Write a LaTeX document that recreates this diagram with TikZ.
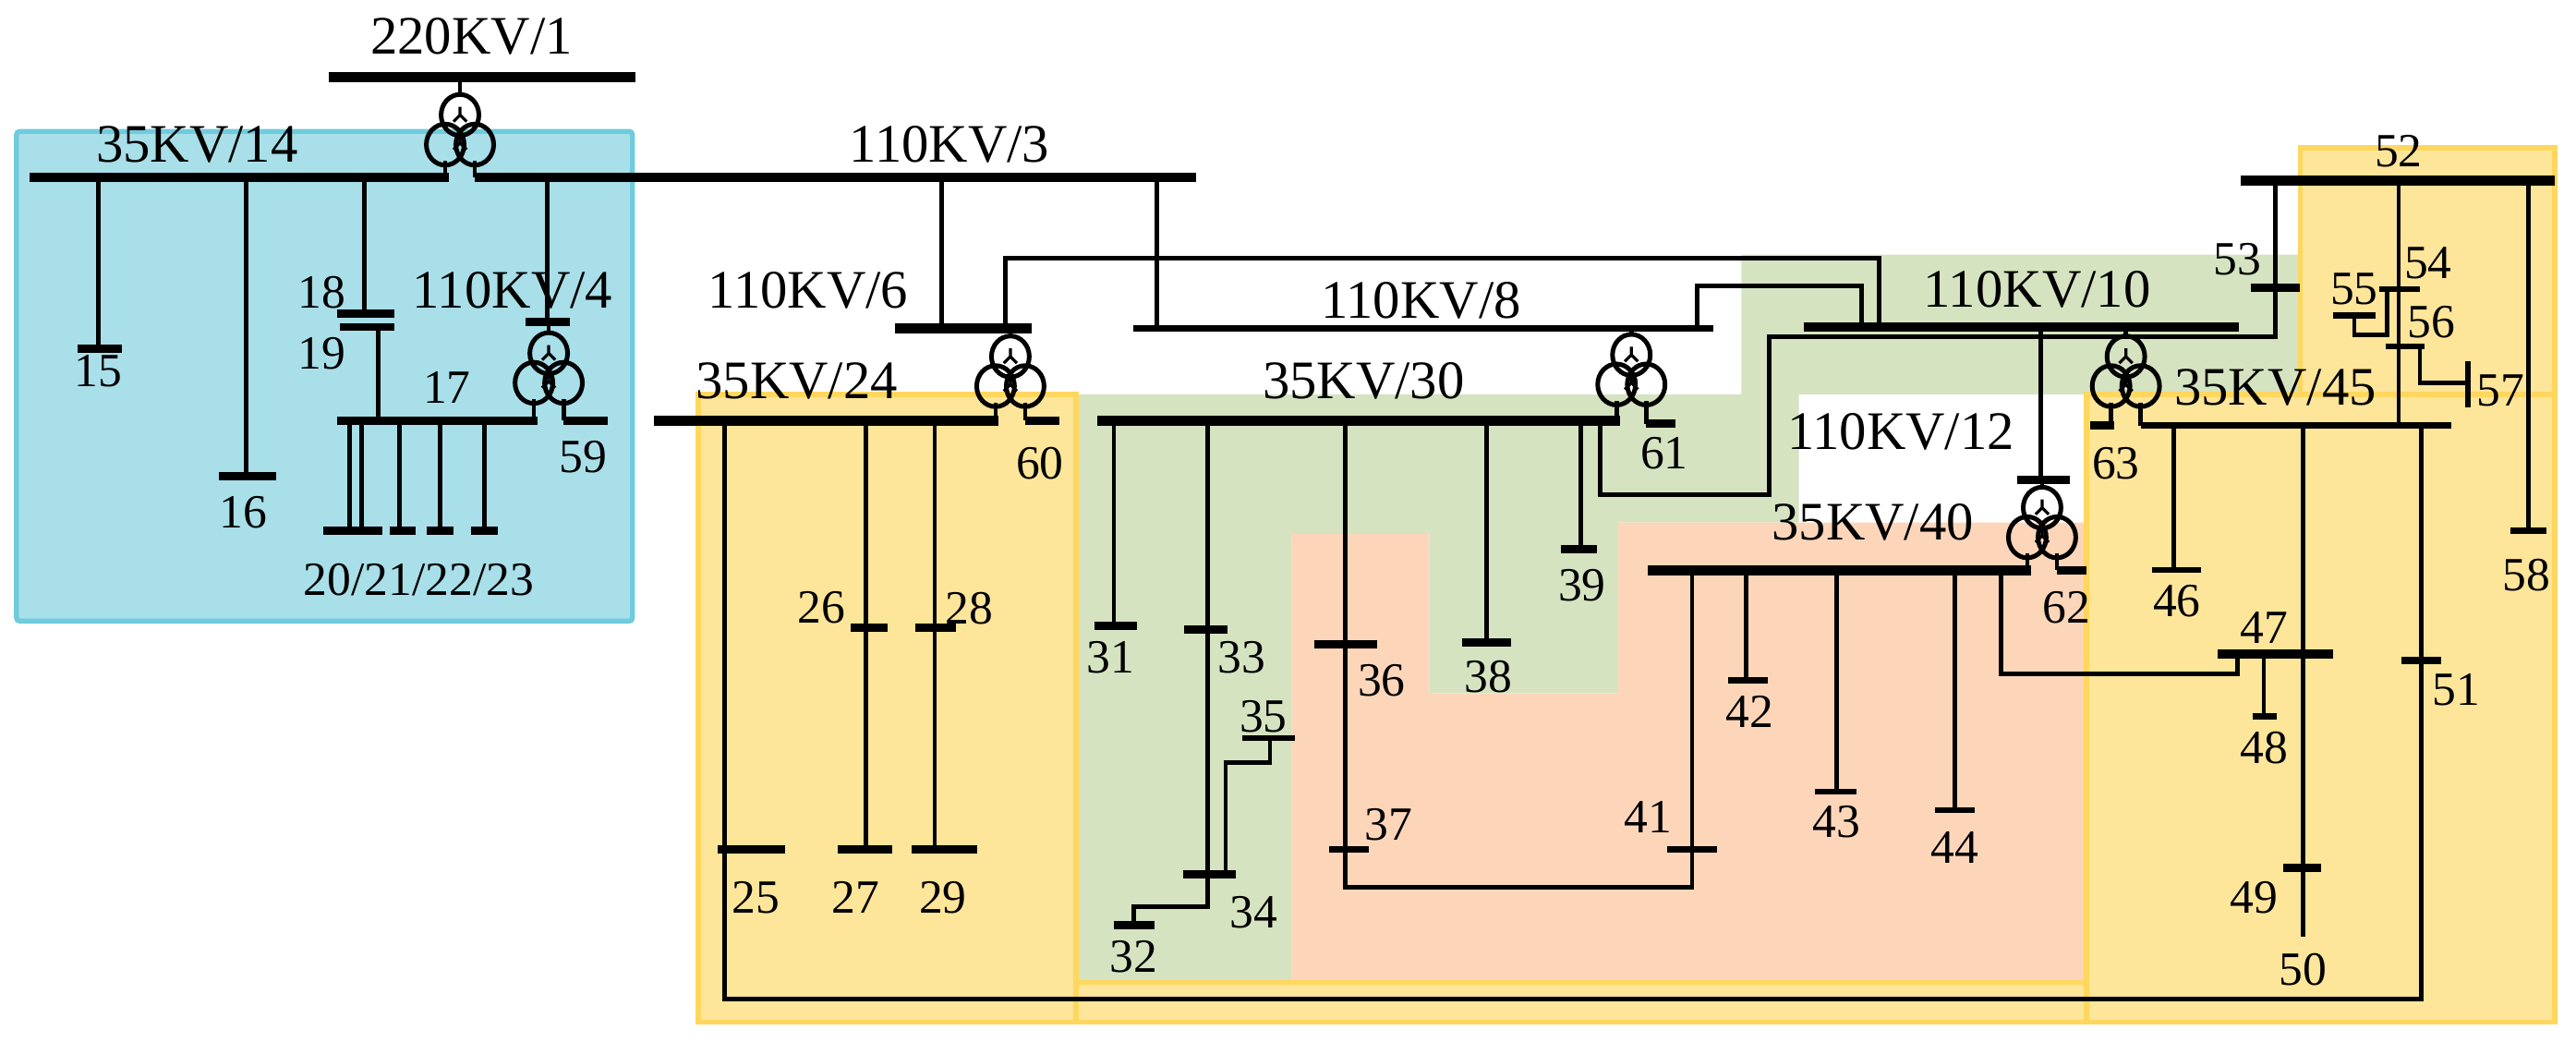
\documentclass[tikz,border=0pt]{standalone}
\usepackage{fontspec}
\setmainfont{Liberation Serif}
\begin{document}
\begin{tikzpicture}[x=1pt,y=-1pt,
  ln/.style={line width=2.7pt},
  bus/.style={line width=6pt},
  bar/.style={line width=5pt},
  lb/.style={font=\fontsize{33}{36}\selectfont,inner sep=0pt},
  nb/.style={font=\fontsize{29}{32}\selectfont,inner sep=0pt},
  reg/.style={line width=3pt}]
\definecolor{bluef}{HTML}{A8DFE9}\definecolor{blueb}{HTML}{6FCBDD}
\definecolor{yelf}{HTML}{FDE59A}\definecolor{yelb}{HTML}{FFD75E}
\definecolor{grnf}{HTML}{D5E3C1}\definecolor{pchf}{HTML}{FDD6BA}
\useasboundingbox (0,0) rectangle (1568,634);
% regions
\draw[reg,fill=bluef,draw=blueb,rounded corners=2pt] (10,80) rectangle (385,378);
\fill[grnf] (655,240)--(1060,240)--(1060,155)--(1400,155)--(1400,240)--(1095,240)--(1095,318)--(985,318)--(985,422)--(870,422)--(870,325)--(786,325)--(786,598)--(655,598)--cycle;
\fill[pchf] (786,325)--(870,325)--(870,422)--(985,422)--(985,318)--(1270,318)--(1270,598)--(786,598)--cycle;
\draw[reg,fill=yelf,draw=yelb] (425,240) rectangle (655,622);
\draw[reg,fill=yelf,draw=yelb] (655,598) rectangle (1270,622);
\draw[reg,fill=yelf,draw=yelb] (1270,240) rectangle (1555,622);
\draw[reg,fill=yelf,draw=yelb] (1400,90) rectangle (1555,240);
% transformer pic
\tikzset{trafo/.pic={\draw[line width=2.8pt] (0,0) circle[x radius=11.5,y radius=12.5] (-9,18) circle[x radius=11.5,y radius=12.5] (9,18) circle[x radius=11.5,y radius=12.5];
 \draw[line width=1.8pt] (0,12)--(0,17)--(-4,21) (0,17)--(4,21) (0,-5)--(0,0)--(-4,4) (0,0)--(4,4);}}
% ===== top
\draw[bus] (200,47)--(387,47);
\node[lb] (l1) at (287,22) {220KV/1};
\pic at (280,70) {trafo};
\draw[ln] (280,47)--(280,57.5);
\draw[bus] (18,108)--(273,108);
\draw[ln] (271,98)--(271,108);
\draw[ln] (289,98)--(289,108);
\draw[bus] (289,108)--(728,108);
\node[lb] at (120,88) {35KV/14};
\node[lb] at (578,88) {110KV/3};
% 35KV/14 branches
\draw[ln] (60,108)--(60,212); \draw[bar] (47,212)--(74,212); \node[nb] at (60,218) [below=-2pt] {15};
\draw[ln] (150,108)--(150,290); \draw[bar] (133,290)--(168,290); \node[nb] at (148,312) {16};
\draw[ln] (222,108)--(222,191); \draw[bar] (205,191)--(240,191); \draw[bar] (207,199)--(240,199);
\node[nb] at (196,178) {18}; \node[nb] at (196,215) {19};
\draw[ln] (230,199)--(230,256);
\draw[ln] (333,108)--(333,196); \draw[bar] (320,196)--(347,196);
\node[lb] at (312,177) {110KV/4};
\pic at (334,215) {trafo};
\draw[ln] (334,196)--(334,202.5);
\draw[bar] (205,256)--(327,256); \draw[ln] (325,243)--(325,256);
\draw[ln] (343,243)--(343,256); \draw[bar] (343,256)--(370,256);
\node[nb] at (272,236) {17}; \node[nb] at (355,278) {59};
\foreach \x in {213,220,243,268,295} \draw[ln] (\x,256)--(\x,323);
\draw[bar] (197,323)--(233,323); \draw[bar] (237,323)--(253,323);
\draw[bar] (260,323)--(276,323); \draw[bar] (287,323)--(303,323);
\node[nb] at (255,353) {20/21/22/23};
% 110KV/6
\draw[ln] (573,108)--(573,200); \draw[bus] (545,200)--(628,200);
\node[lb] at (492,177) {110KV/6};
\pic at (615,217) {trafo};
\draw[ln] (615,200)--(615,204.5);
\draw[ln] (606,245)--(606,256); \draw[ln] (624,245)--(624,256);
\draw[bus] (398,256)--(608,256); \draw[bar] (624,256)--(645,256);
\node[lb] at (485,232) {35KV/24}; \node[nb] at (633,282) {60};
\draw[ln] (441,256)--(441,608)--(1474,608)--(1474,259);
\draw[bar] (437,517)--(478,517); \node[nb] at (460,546) {25};
\draw[ln] (527,256)--(527,517); \draw[bar] (518,382)--(540,382); \draw[bar] (510,517)--(543,517);
\node[nb] at (500,370) {26}; \node[nb] at (521,546) {27};
\draw[ln] (569,256)--(569,517); \draw[bar] (557,382)--(582,382); \draw[bar] (555,517)--(595,517);
\node[nb] at (590,370) {28}; \node[nb] at (574,546) {29};
% 110KV/8 and 10
\draw[ln] (704,108)--(704,200);
\draw[line width=4pt] (690,200)--(1043,200);
\node[lb] at (865,183) {110KV/8};
\draw[ln] (612,200)--(612,157)--(1144,157)--(1144,198);
\draw[ln] (1033,200)--(1033,174)--(1133,174)--(1133,198);
\draw[bus] (1098,199)--(1363,199);
\node[lb] at (1240,176) {110KV/10};
\pic at (993,216) {trafo};
\draw[ln] (993,200)--(993,203.5);
\draw[ln] (984,244)--(984,257); \draw[ln] (1002,244)--(1002,258); \draw[bar] (1002,258)--(1020,258);
\node[nb] at (1013,276) {61};
\draw[bus] (668,256)--(986,256);
\node[lb] at (830,232) {35KV/30};
\draw[ln] (974,256)--(974,301)--(1077,301)--(1077,205)--(1385,205)--(1385,110);
\draw[bar] (1370,175)--(1400,175); \node[nb] at (1362,158) {53};
% 35KV/30 drops
\draw[ln] (678,256)--(678,381); \draw[bar] (666,381)--(692,381); \node[nb] at (676,400) {31};
\draw[ln] (735,256)--(735,552)--(690,552)--(690,563); \draw[bar] (721,383)--(747,383); \draw[bar] (720,532)--(752,532); \draw[bar] (678,563)--(703,563);
\node[nb] at (756,400) {33}; \node[nb] at (763,555) {34}; \node[nb] at (690,582) {32};
\draw[ln] (773,449)--(773,464)--(746,464)--(746,532); \draw[line width=3.5pt] (756,449)--(788,449); \node[nb] at (769,436) {35};
\draw[ln] (819,256)--(819,540)--(1030,540)--(1030,347);
\draw[bar] (800,392)--(838,392); \draw[line width=3.5pt] (809,517)--(833,517);
\node[nb] at (841,414) {36}; \node[nb] at (845,502) {37};
\draw[line width=3.5pt] (1015,517)--(1045,517); \node[nb] at (1003,497) {41};
\draw[ln] (905,256)--(905,391); \draw[bar] (890,391)--(920,391); \node[nb] at (906,412) {38};
\draw[ln] (962,256)--(962,334); \draw[bar] (950,334)--(972,334); \node[nb] at (963,356) {39};
% 110KV/12, 35KV/40
\draw[ln] (1242,199)--(1242,292); \draw[bar] (1228,292)--(1260,292);
\node[lb] at (1157,263) {110KV/12};
\pic at (1243,309) {trafo};
\draw[ln] (1243,292)--(1243,296.5);
\draw[ln] (1234,337)--(1234,347); \draw[ln] (1252,337)--(1252,347); \draw[bar] (1252,347)--(1270,347);
\draw[bus] (1003,347)--(1236,347);
\node[lb] at (1140,318) {35KV/40}; \node[nb] at (1258,370) {62};
\draw[ln] (1063,347)--(1063,414); \draw[line width=3.5pt] (1052,414)--(1076,414); \node[nb] at (1065,433) {42};
\draw[ln] (1118,347)--(1118,482); \draw[line width=3.5pt] (1105,482)--(1130,482); \node[nb] at (1118,500) {43};
\draw[ln] (1190,347)--(1190,493); \draw[line width=3.5pt] (1178,493)--(1202,493); \node[nb] at (1190,516) {44};
\draw[ln] (1218,347)--(1218,410)--(1362,410)--(1362,398);
% 35KV/45
\pic at (1294,217) {trafo};
\draw[ln] (1294,199)--(1294,204.5);
\draw[ln] (1285,245)--(1285,259); \draw[bar] (1272,259)--(1287,259);
\draw[ln] (1303,245)--(1303,259); \draw[line width=4pt] (1303,259)--(1492,259);
\node[lb] at (1385,236) {35KV/45}; \node[nb] at (1288,282) {63};
\draw[ln] (1323,259)--(1323,347); \draw[line width=3.5pt] (1310,347)--(1340,347); \node[nb] at (1325,366) {46};
\draw[ln] (1402,259)--(1402,570); \draw[bus] (1350,398)--(1420,398); \node[nb] at (1378,382) {47};
\draw[ln] (1378,398)--(1378,436); \draw[line width=3.5pt] (1371,436)--(1386,436); \node[nb] at (1378,455) {48};
\draw[bar] (1390,528)--(1413,528); \node[nb] at (1372,546) {49}; \node[nb] at (1402,590) {50};
\draw[bar] (1462,402)--(1486,402); \node[nb] at (1495,420) {51};
% 52
\draw[bus] (1364,110)--(1555,110); \node[nb] at (1460,92) {52};
\draw[ln] (1460,110)--(1460,259);
\draw[line width=3.5pt] (1448,176)--(1473,176); \node[nb] at (1478,160) {54};
\draw[line width=3.5pt] (1420,192)--(1446,192); \draw[ln] (1433,192)--(1433,204)--(1453,204)--(1453,176);
\node[nb] at (1433,176) {55};
\draw[line width=3.5pt] (1452,211)--(1476,211); \draw[ln] (1473,211)--(1473,233)--(1502,233);
\draw[line width=3.5pt] (1502,220)--(1502,248);
\node[nb] at (1480,196) {56}; \node[nb] at (1522,238) {57};
\draw[ln] (1539,110)--(1539,323); \draw[line width=3.5pt] (1528,323)--(1550,323); \node[nb] at (1538,350) {58};
\end{tikzpicture}
\end{document}
